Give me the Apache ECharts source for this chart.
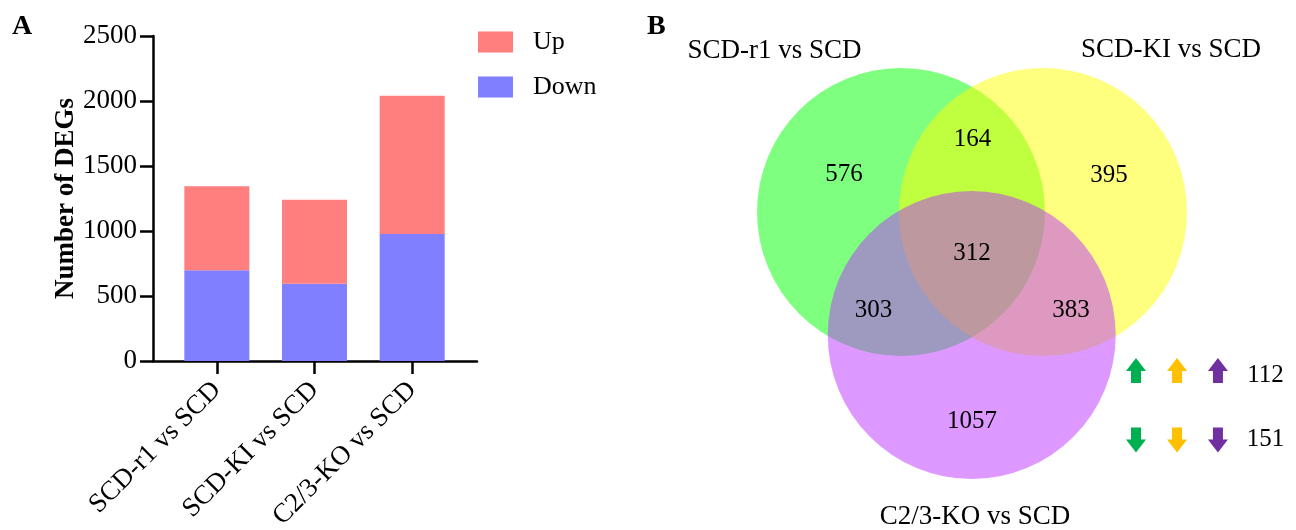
<!DOCTYPE html>
<html><head><meta charset="utf-8">
<script src="https://cdn.jsdelivr.net/npm/echarts@6/dist/echarts.min.js"></script>
<style>html,body{margin:0;padding:0;background:#fff}#c{width:1296px;height:530px}</style>
</head><body><div id="c"></div>
<script>
// ---- Panel A data ----
const categories = ['SCD-r1 vs SCD', 'SCD-KI vs SCD', 'C2/3-KO vs SCD'];
const downValues = [698, 595, 977];
const upValues = [646, 646, 1064];
const yTicks = [0, 500, 1000, 1500, 2000, 2500];

// ---- Panel B data ----
const setNames = ['SCD-r1 vs SCD', 'SCD-KI vs SCD', 'C2/3-KO vs SCD'];
const regionCounts = [576, 164, 395, 312, 303, 383, 1057];
const sharedUp = 112;
const sharedDown = 151;

// ---- Panel B layout (Venn units, radius = 1) ----
const circleLayout = [[0, 0, 1], [0.986, 0, 1], [0.491, -0.854, 1]];
const circleColors = ['rgba(0,255,0,0.5)', 'rgba(255,255,0,0.5)', 'rgba(187,51,255,0.5)'];
const regionLayout = [[-0.396, 0.264], [0.497, 0.503], [1.444, 0.257], [0.493, -0.288], [-0.191, -0.681], [1.181, -0.681], [0.493, -1.451]];
const setLabelLayout = [[-0.878, 1.118], [1.875, 1.125], [0.514, -2.118]];
const arrowX = [1.632, 1.917, 2.201];
const arrowY = [-1.101, -1.583];
const arrowColors = ['#00B050', '#FFC000', '#7030A0'];
const countLabelLayout = [[2.531, -1.132], [2.531, -1.576]];

const FONT = '"Liberation Serif", "Times New Roman", serif';
const upPath = 'path://M10,0 L20,13 L15,13 L15,25 L5,25 L5,13 L0,13 Z';
const AXIS = { color: '#000', width: 2.5 };

const arrowData = [];
arrowX.forEach((x, i) => {
  arrowData.push({ value: [x, arrowY[0]], itemStyle: { color: arrowColors[i], opacity: 1 }, symbolRotate: 0 });
  arrowData.push({ value: [x, arrowY[1]], itemStyle: { color: arrowColors[i], opacity: 1 }, symbolRotate: 180 });
});

const textScatter = (data, size) => ({
  type: 'scatter', xAxisIndex: 2, yAxisIndex: 2, silent: true, clip: false,
  symbolSize: 1, itemStyle: { color: 'rgba(0,0,0,0)', opacity: 1 },
  label: { show: true, position: 'inside', formatter: p => p.name, fontFamily: FONT, fontSize: size, color: '#000', opacity: 1 },
  data
});

const chart = echarts.init(document.getElementById('c'));
chart.setOption({
  animation: false,
  backgroundColor: '#fff',
  title: [
    { text: 'A', left: 7, top: 8, textStyle: { fontFamily: FONT, fontWeight: 'bold', fontSize: 28, color: '#000' } },
    { text: 'B', left: 642, top: 8, textStyle: { fontFamily: FONT, fontWeight: 'bold', fontSize: 28, color: '#000' } }
  ],
  legend: {
    data: ['Up', 'Down'],
    orient: 'vertical',
    left: 473, top: 24,
    itemWidth: 35, itemHeight: 21, itemGap: 19,
    icon: 'rect',
    textStyle: { fontFamily: FONT, fontSize: 26, color: '#000', padding: [0, 0, 0, 15] }
  },
  grid: [
    { left: 153, top: 36, width: 324, height: 325, outerBoundsMode: 'none', containLabel: false },   // axis frame
    { left: 168, top: 36, width: 293, height: 325, outerBoundsMode: 'none', containLabel: false },   // bars
    { left: 640, top: 0, width: 656, height: 530, outerBoundsMode: 'none', containLabel: false }     // venn
  ],
  xAxis: [
    {
      gridIndex: 0, type: 'value', min: 0, max: 1,
      splitLine: { show: false }, axisTick: { show: false }, axisLabel: { show: false },
      axisLine: { lineStyle: AXIS }
    },
    {
      gridIndex: 1, type: 'category', data: categories,
      axisLine: { show: false },
      axisTick: { show: true, alignWithLabel: true, length: 13, lineStyle: AXIS },
      axisLabel: { rotate: 45, margin: 25, interval: 0, fontFamily: FONT, fontSize: 27, color: '#000' }
    },
    { gridIndex: 2, type: 'value', min: -1.8125, max: 2.7431, show: false }
  ],
  yAxis: [
    {
      gridIndex: 0, type: 'value', min: yTicks[0], max: yTicks[yTicks.length - 1], interval: 500,
      name: 'Number of DEGs', nameLocation: 'middle', nameGap: 71,
      nameTextStyle: { fontFamily: FONT, fontWeight: 'bold', fontSize: 27, color: '#000' },
      splitLine: { show: false },
      axisLine: { show: true, lineStyle: AXIS },
      axisTick: { show: true, length: 13, lineStyle: AXIS },
      axisLabel: { margin: 16, fontFamily: FONT, fontSize: 27, color: '#000', formatter: v => String(v) }
    },
    {
      gridIndex: 1, type: 'value', min: yTicks[0], max: yTicks[yTicks.length - 1], interval: 500,
      show: false, splitLine: { show: false }
    },
    { gridIndex: 2, type: 'value', min: -2.2083, max: 1.4722, show: false }
  ],
  series: [
    {
      name: 'Down', type: 'bar', stack: 'deg', xAxisIndex: 1, yAxisIndex: 1, barWidth: 65,
      itemStyle: { color: '#7F7FFF' },
      data: downValues
    },
    {
      name: 'Up', type: 'bar', stack: 'deg', xAxisIndex: 1, yAxisIndex: 1, barWidth: 65,
      itemStyle: { color: '#FF7F7F' },
      data: upValues
    },
    {
      type: 'custom', xAxisIndex: 2, yAxisIndex: 2, silent: true, clip: false,
      data: circleLayout.map((c, i) => [c[0], c[1], c[2], i]),
      renderItem: (params, api) => {
        const c = api.coord([api.value(0), api.value(1)]);
        const s = api.size([api.value(2), api.value(2)]);
        return { type: 'circle', shape: { cx: c[0], cy: c[1], r: s[0] }, style: { fill: circleColors[api.value(3)] } };
      }
    },
    textScatter(regionCounts.map((v, i) => ({ name: String(v), value: regionLayout[i] })), 25),
    textScatter(setNames.map((n, i) => ({ name: n, value: setLabelLayout[i] })), 27),
    {
      type: 'scatter', xAxisIndex: 2, yAxisIndex: 2, silent: true, clip: false,
      symbol: upPath, symbolSize: [20, 25],
      data: arrowData
    },
    textScatter([sharedUp, sharedDown].map((v, i) => ({ name: String(v), value: countLabelLayout[i] })), 25)
  ]
});
</script>
</body></html>
